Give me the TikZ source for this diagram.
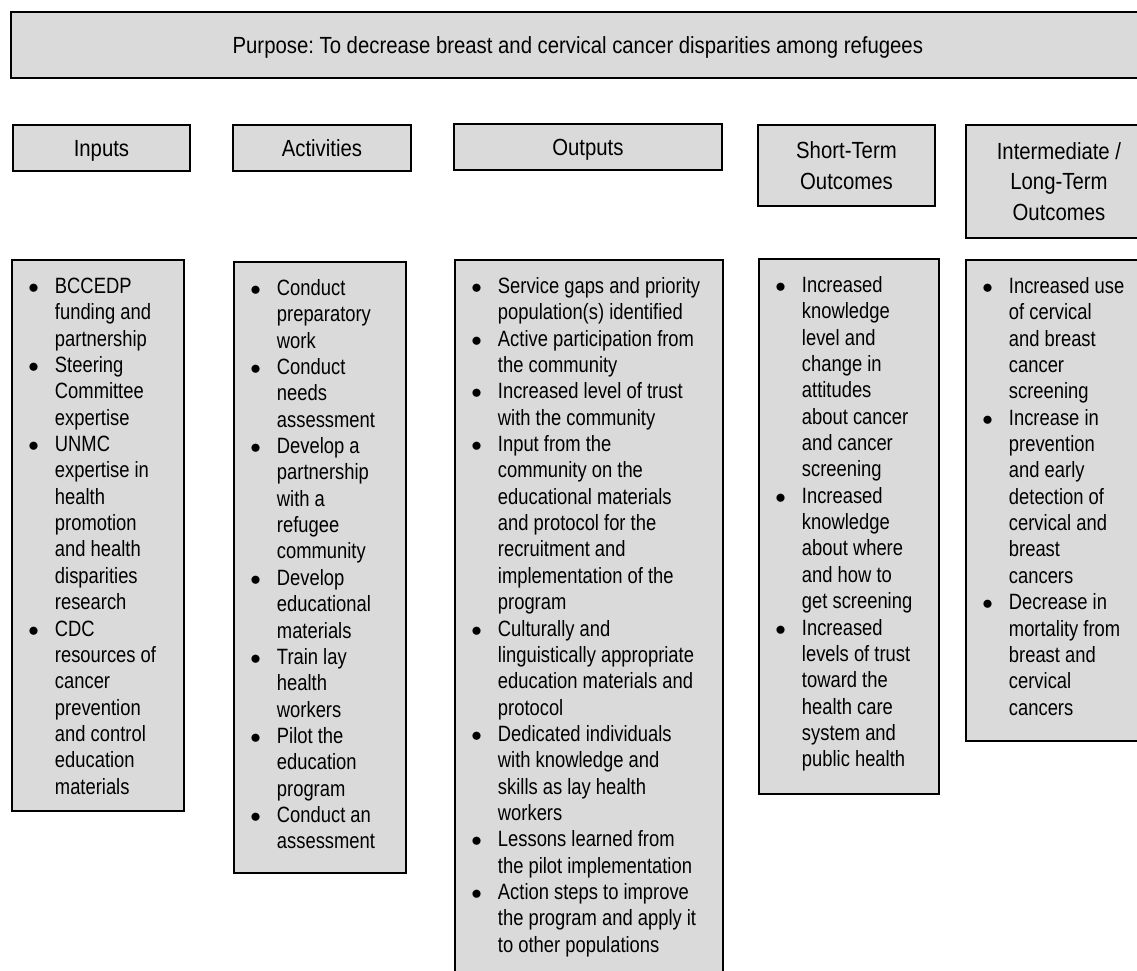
\documentclass[tikz,border=0pt]{standalone}
\usepackage{fontspec}
\setmainfont{Liberation Sans}[FakeStretch=0.83]
\newfontfamily\headfamily{Liberation Sans}[FakeStretch=0.87]
\usepackage{enumitem}
\usepackage{tikz}
\usepackage{xcolor}

\newlength{\px}
\setlength{\px}{0.02cm}
\definecolor{boxgray}{RGB}{218,218,218}
\frenchspacing
\newcommand{\headfont}{\headfamily\fontsize{13.3}{17.4}\selectfont}
\newcommand{\bodyfont}{\fontsize{12.6}{15}\selectfont}
\setlist[itemize]{label=\strut$\bullet$, leftmargin=43\px, labelwidth=27\px,
  labelsep=16\px, align=right, topsep=0pt, partopsep=0pt, parsep=0pt, itemsep=0pt}
\newcommand{\boxlist}[3]{%
  \begin{minipage}[t][#2\px][t]{#1\px}\bodyfont
    \vspace*{15\px}%
    \begin{itemize}#3\end{itemize}%
  \end{minipage}}

\begin{document}
\begin{tikzpicture}[x=0.02cm, y=-0.02cm,
    box/.style={draw=black, line width=1.1pt, fill=boxgray, anchor=north west, inner sep=0pt},
    head/.style={box, align=center, font=\headfont, text depth=0pt},
    list/.style={box}]
    \useasboundingbox (0,0) rectangle (1137,971);
    \clip (0,0) rectangle (1137,971);

    % Purpose banner (runs past the right edge)
    \node[head, minimum width=22.68cm, minimum height=1.32cm] (purpose) at (10,11)
        {Purpose: To decrease breast and cervical cancer disparities among refugees};

    % Column headings
    \node[head, minimum width=3.54cm, minimum height=0.92cm] (inputs)     at (12,124)  {Inputs};
    \node[head, minimum width=3.56cm, minimum height=0.92cm] (activities) at (232,124) {Activities};
    \node[head, minimum width=5.36cm, minimum height=0.92cm] (outputs)    at (453,123) {Outputs};
    \node[head, minimum width=3.54cm, minimum height=1.62cm] (shortterm)  at (757,124) {Short-Term\\Outcomes};
    \node[head, minimum width=3.72cm, minimum height=2.26cm] (longterm)   at (965,124) {Intermediate /\\Long-Term\\Outcomes};

    % Column contents
    \node[list] (inputlist) at (11,259) {\boxlist{172}{551}{
        \item BCCEDP\\funding and\\partnership
        \item Steering\\Committee\\expertise
        \item UNMC\\expertise in\\health\\promotion\\and health\\disparities\\research
        \item CDC\\resources of\\cancer\\prevention\\and control\\education\\materials}};

    \node[list] (activitylist) at (233,261) {\boxlist{172}{611}{
        \item Conduct\\preparatory\\work
        \item Conduct\\needs\\assessment
        \item Develop a\\partnership\\with a\\refugee\\community
        \item Develop\\educational\\materials
        \item Train lay\\health\\workers
        \item Pilot the\\education\\program
        \item Conduct an\\assessment}};

    \node[list] (outputlist) at (454,259) {\boxlist{268}{731}{
        \item Service gaps and priority\\population(s) identified
        \item Active participation from\\the community
        \item Increased level of trust\\with the community
        \item Input from the\\community on the\\educational materials\\and protocol for the\\recruitment and\\implementation of the\\program
        \item Culturally and\\linguistically appropriate\\education materials and\\protocol
        \item Dedicated individuals\\with knowledge and\\skills as lay health\\workers
        \item Lessons learned from\\the pilot implementation
        \item Action steps to improve\\the program and apply it\\to other populations}};

    \node[list] (shortlist) at (758,258) {\boxlist{180}{535}{
        \item Increased\\knowledge\\level and\\change in\\attitudes\\about cancer\\and cancer\\screening
        \item Increased\\knowledge\\about where\\and how to\\get screening
        \item Increased\\levels of trust\\toward the\\health care\\system and\\public health}};

    \node[list] (longlist) at (965,259) {\boxlist{186}{481}{
        \item Increased use\\of cervical\\and breast\\cancer\\screening
        \item Increase in\\prevention\\and early\\detection of\\cervical and\\breast\\cancers
        \item Decrease in\\mortality from\\breast and\\cervical\\cancers}};
\end{tikzpicture}
\end{document}
